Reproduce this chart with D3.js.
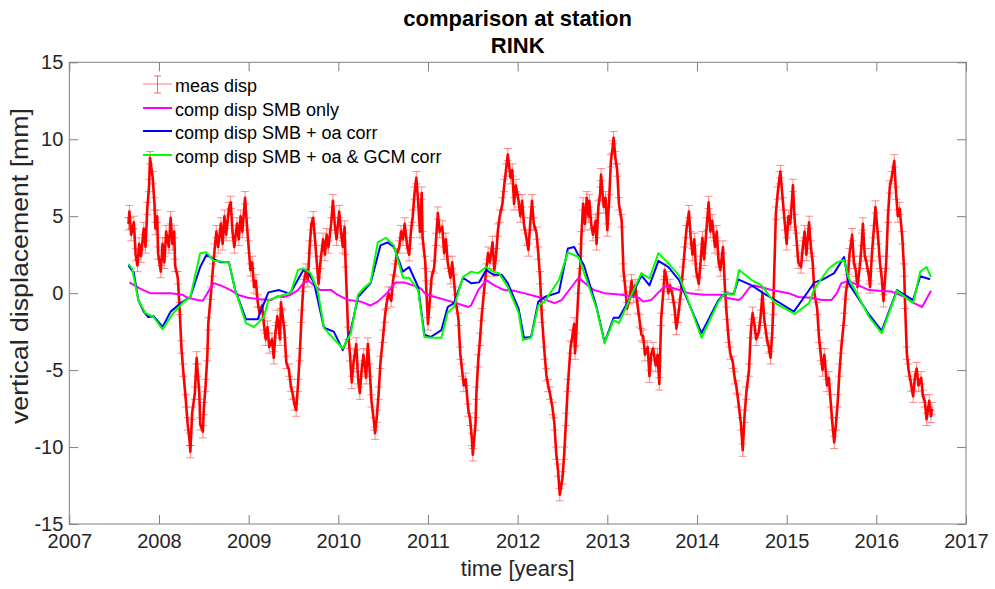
<!DOCTYPE html>
<html>
<head>
<meta charset="utf-8">
<script src="https://cdn.jsdelivr.net/npm/d3@7"></script>
<style>
  body { margin: 0; background: #fff; }
  svg { display: block; font-family: "Liberation Sans", Arial, Helvetica, sans-serif; }
</style>
</head>
<body>
<div class="chart"></div>
<script>
var w = 995,
    h = 589;

// measured displacement (GPS), years and mm
var measYear = [
  2007.66, 2007.67, 2007.69, 2007.72, 2007.74, 2007.76, 2007.78, 2007.80, 2007.83, 2007.85,
  2007.87, 2007.89, 2007.90, 2007.93, 2007.95, 2007.96, 2007.98, 2007.99, 2008.02, 2008.04,
  2008.06, 2008.08, 2008.11, 2008.13, 2008.15, 2008.17, 2008.18, 2008.21, 2008.23, 2008.25,
  2008.27, 2008.30, 2008.32, 2008.34, 2008.35, 2008.37, 2008.40, 2008.42, 2008.43, 2008.45,
  2008.46, 2008.49, 2008.50, 2008.52, 2008.54, 2008.55, 2008.58, 2008.60, 2008.62, 2008.64,
  2008.66, 2008.69, 2008.71, 2008.73, 2008.75, 2008.78, 2008.80, 2008.82, 2008.84, 2008.87,
  2008.89, 2008.91, 2008.93, 2008.96, 2008.98, 2009.00, 2009.02, 2009.04, 2009.06, 2009.08,
  2009.10, 2009.12, 2009.15, 2009.17, 2009.19, 2009.21, 2009.23, 2009.26, 2009.28, 2009.30,
  2009.32, 2009.35, 2009.36, 2009.38, 2009.40, 2009.42, 2009.45, 2009.47, 2009.49, 2009.51,
  2009.53, 2009.55, 2009.57, 2009.59, 2009.61, 2009.64, 2009.66, 2009.68, 2009.70, 2009.72,
  2009.74, 2009.76, 2009.78, 2009.80, 2009.83, 2009.85, 2009.87, 2009.89, 2009.92, 2009.94,
  2009.96, 2009.98, 2010.01, 2010.03, 2010.05, 2010.07, 2010.08, 2010.11, 2010.13, 2010.15,
  2010.17, 2010.20, 2010.22, 2010.24, 2010.26, 2010.28, 2010.31, 2010.33, 2010.35, 2010.37,
  2010.40, 2010.41, 2010.43, 2010.45, 2010.47, 2010.50, 2010.52, 2010.54, 2010.56, 2010.59,
  2010.61, 2010.63, 2010.65, 2010.68, 2010.70, 2010.72, 2010.74, 2010.77, 2010.79, 2010.81,
  2010.83, 2010.85, 2010.87, 2010.89, 2010.91, 2010.93, 2010.94, 2010.97, 2010.98, 2011.00,
  2011.02, 2011.04, 2011.07, 2011.09, 2011.11, 2011.13, 2011.16, 2011.18, 2011.20, 2011.22,
  2011.25, 2011.27, 2011.29, 2011.31, 2011.34, 2011.36, 2011.38, 2011.40, 2011.42, 2011.45,
  2011.47, 2011.49, 2011.50, 2011.53, 2011.54, 2011.56, 2011.58, 2011.60, 2011.63, 2011.65,
  2011.67, 2011.69, 2011.72, 2011.74, 2011.76, 2011.78, 2011.80, 2011.83, 2011.85, 2011.87,
  2011.89, 2011.92, 2011.94, 2011.96, 2011.98, 2012.01, 2012.03, 2012.05, 2012.07, 2012.10,
  2012.12, 2012.14, 2012.16, 2012.18, 2012.21, 2012.23, 2012.25, 2012.27, 2012.30, 2012.32,
  2012.34, 2012.36, 2012.39, 2012.41, 2012.43, 2012.45, 2012.47, 2012.50, 2012.52, 2012.54,
  2012.56, 2012.59, 2012.61, 2012.63, 2012.64, 2012.65, 2012.68, 2012.70, 2012.71, 2012.73,
  2012.75, 2012.77, 2012.79, 2012.80, 2012.82, 2012.84, 2012.87, 2012.88, 2012.90, 2012.92,
  2012.93, 2012.96, 2012.98, 2013.00, 2013.02, 2013.04, 2013.06, 2013.07, 2013.09, 2013.11,
  2013.13, 2013.16, 2013.18, 2013.20, 2013.22, 2013.25, 2013.27, 2013.29, 2013.31, 2013.34,
  2013.36, 2013.38, 2013.40, 2013.42, 2013.45, 2013.47, 2013.49, 2013.51, 2013.54, 2013.56,
  2013.58, 2013.60, 2013.63, 2013.64, 2013.66, 2013.68, 2013.70, 2013.73, 2013.75, 2013.77,
  2013.79, 2013.82, 2013.84, 2013.86, 2013.88, 2013.91, 2013.93, 2013.95, 2013.97, 2013.99,
  2014.02, 2014.04, 2014.06, 2014.08, 2014.11, 2014.13, 2014.15, 2014.17, 2014.20, 2014.22,
  2014.24, 2014.26, 2014.29, 2014.31, 2014.33, 2014.35, 2014.37, 2014.40, 2014.42, 2014.44,
  2014.46, 2014.49, 2014.51, 2014.53, 2014.55, 2014.58, 2014.60, 2014.62, 2014.64, 2014.66,
  2014.69, 2014.71, 2014.73, 2014.75, 2014.78, 2014.80, 2014.82, 2014.84, 2014.85, 2014.88,
  2014.90, 2014.92, 2014.93, 2014.96, 2014.98, 2015.00, 2015.02, 2015.04, 2015.07, 2015.09,
  2015.11, 2015.13, 2015.16, 2015.18, 2015.20, 2015.22, 2015.25, 2015.27, 2015.29, 2015.31,
  2015.34, 2015.36, 2015.38, 2015.40, 2015.42, 2015.45, 2015.47, 2015.49, 2015.51, 2015.53,
  2015.55, 2015.57, 2015.59, 2015.61, 2015.64, 2015.66, 2015.68, 2015.70, 2015.73, 2015.75,
  2015.77, 2015.79, 2015.82, 2015.84, 2015.85, 2015.87, 2015.89, 2015.92, 2015.93, 2015.95,
  2015.97, 2015.99, 2016.02, 2016.04, 2016.06, 2016.08, 2016.11, 2016.13, 2016.15, 2016.17,
  2016.20, 2016.22, 2016.24, 2016.26, 2016.29, 2016.31, 2016.32, 2016.34, 2016.36, 2016.39,
  2016.41, 2016.43, 2016.45, 2016.47, 2016.50, 2016.52, 2016.54, 2016.56, 2016.59, 2016.61,
  2016.62
];
var measDisp = [
  4.5, 5.3, 3.8, 4.6, 2.5, 1.8, 3.2, 2.4, 4.2, 3.0,
  5.5, 7.0, 8.8, 7.5, 5.8, 4.2, 5.0, 2.6, 1.4, 3.2,
  2.0, 4.0, 3.0, 4.9, 3.2, 4.0, 1.8, 1.0, -1.0, -3.5,
  -5.0, -7.0, -8.5, -9.5, -10.3, -7.8, -6.5, -4.2, -5.0, -6.5,
  -8.5, -9.0, -7.5, -6.0, -4.0, -2.0, 0.0, 1.5, 2.8, 4.0,
  3.0, 4.5, 3.2, 5.0, 3.8, 5.5, 5.9, 4.0, 3.0, 4.5,
  3.5, 5.0, 4.0, 6.2, 4.5, 3.0, 1.5, 2.0, 0.4, 0.8,
  -0.5, -1.3, -0.8, -2.0, -3.0, -2.2, -3.5, -3.0, -4.2, -2.5,
  -1.5, -3.0, -0.6, -1.5, -2.5, -4.5, -5.0, -6.0, -6.5, -7.2,
  -7.6, -6.0, -4.0, -1.5, 0.5, 1.5, 0.8, 3.0, 4.5, 4.9,
  3.5, 2.0, 0.6, 2.0, 3.5, 2.5, 3.8, 3.0, 4.5, 6.0,
  4.5, 3.5, 5.3, 4.0, 3.0, 4.3, 2.1, -2.6, -4.0, -5.8,
  -4.5, -3.3, -5.5, -6.5, -5.0, -4.0, -5.5, -3.3, -5.0, -7.0,
  -8.5, -9.1, -8.0, -6.5, -4.5, -2.8, -1.5, -0.6, 0.0, -0.5,
  0.8, 1.5, 2.5, 3.0, 4.0, 3.5, 4.5, 3.0, 2.5, 4.0,
  5.0, 6.5, 7.5, 6.0, 4.0, 6.5, 3.6, 2.0, 0.4, -2.0,
  -0.5, 1.0, 1.7, 3.5, 5.2, 4.0, 4.3, 2.6, 3.5, 2.0,
  1.0, 2.0, 0.8, -0.5, -1.7, -3.9, -5.0, -6.0, -5.6, -7.6,
  -8.2, -9.5, -10.5, -8.5, -6.5, -4.4, -3.0, -1.4, 0.4, 1.5,
  2.6, 2.0, 3.3, 1.5, 2.5, 4.1, 5.0, 5.8, 7.0, 8.0,
  9.0, 7.5, 8.0, 5.8, 7.0, 6.0, 5.0, 6.0, 4.5, 3.5,
  2.8, 4.5, 6.0, 4.5, 3.9, 2.6, 1.0, -1.5, -3.9, -5.3,
  -6.0, -6.5, -7.5, -8.5, -10.4, -11.5, -13.1, -12.0, -10.4, -8.2,
  -6.0, -3.5, -2.8, -2.0, -3.9, -3.0, 0.4, 2.0, 3.6, 5.8,
  4.5, 6.2, 5.0, 6.0, 4.5, 3.8, 4.7, 3.2, 5.6, 6.5,
  7.7, 5.6, 6.2, 4.1, 6.0, 8.6, 9.5, 10.1, 8.8, 8.0,
  5.8, 4.7, 1.5, 0.4, -1.0, -0.3, 0.8, -0.2, 0.5, -0.9,
  -1.8, -2.7, -2.8, -4.0, -3.5, -5.4, -4.0, -3.6, -4.7, -4.0,
  -5.9, -1.7, 0.5, 1.5, 1.0, 0.0, 0.5, -0.2, -1.0, -2.3,
  -1.5, 0.0, 1.3, 2.6, 4.0, 5.3, 3.6, 2.5, 3.5, 1.5,
  0.6, 2.0, 3.6, 2.2, 4.5, 5.9, 4.0, 4.7, 3.0, 4.0,
  2.1, 1.5, 3.0, 0.5, -1.3, -2.8, -3.9, -4.5, -5.5, -6.1,
  -7.0, -8.5, -10.2, -8.0, -6.5, -5.0, -2.5, -1.3, -2.0, -3.0,
  -2.5, -1.5, 0.0, -1.7, -3.0, -3.5, -4.2, -2.5, -1.0, 5.2,
  6.5, 7.5, 7.9, 5.8, 4.5, 3.2, 5.0, 4.5, 7.0, 4.7,
  3.5, 2.0, 1.7, 3.0, 4.0, 2.5, 4.6, 3.0, 2.0, 0.0,
  -1.0, -2.8, -4.0, -5.0, -4.0, -6.0, -5.5, -7.0, -8.5, -9.7,
  -8.5, -7.0, -5.0, -3.5, -1.7, 0.0, 0.8, 2.5, 3.8, 2.0,
  1.5, 0.4, 2.0, 3.5, 4.5, 2.5, 2.0, 1.0, 0.4, 2.5,
  4.0, 5.6, 3.6, 2.0, 1.0, -0.5, 2.0, 5.0, 6.9, 7.5,
  8.6, 6.5, 5.0, 5.5, 3.6, 1.5, -0.6, -3.9, -5.0, -6.0,
  -6.7, -5.5, -4.9, -6.0, -5.5, -6.7, -7.0, -8.2, -7.0, -8.0,
  -7.5
];
var measErr = 0.4;

// computed displacement, SMB only
var smbYear = [
  2007.67, 2007.79, 2007.90, 2008.13, 2008.26, 2008.32, 2008.43, 2008.49, 2008.54, 2008.61,
  2008.69, 2008.80, 2008.88, 2008.99, 2009.13, 2009.25, 2009.32, 2009.39, 2009.47, 2009.55,
  2009.61, 2009.67, 2009.73, 2009.80, 2009.92, 2009.99, 2010.11, 2010.25, 2010.36, 2010.44,
  2010.55, 2010.64, 2010.73, 2010.84, 2010.92, 2010.98, 2011.11, 2011.29, 2011.45, 2011.48,
  2011.56, 2011.65, 2011.74, 2011.85, 2011.96, 2012.07, 2012.23, 2012.41, 2012.49, 2012.60,
  2012.68, 2012.74, 2012.85, 2012.97, 2013.16, 2013.35, 2013.40, 2013.49, 2013.57, 2013.64,
  2013.75, 2013.91, 2014.08, 2014.27, 2014.33, 2014.46, 2014.50, 2014.59, 2014.64, 2014.83,
  2015.02, 2015.13, 2015.28, 2015.39, 2015.50, 2015.56, 2015.61, 2015.69, 2015.80, 2015.92,
  2016.03, 2016.17, 2016.32, 2016.42, 2016.51, 2016.61
];
var smbDisp = [
  0.7, 0.3, 0.0, 0.0, -0.1, -0.3, -0.45, -0.5, 0.0, 0.65,
  0.5, 0.2, -0.1, -0.3, -0.4, -0.45, -0.2, -0.25, -0.1, 0.2,
  0.65, 0.8, 0.5, 0.2, 0.2, -0.1, -0.45, -0.55, -0.8, -0.55,
  0.05, 0.7, 0.7, 0.5, 0.3, -0.1, -0.3, -0.6, -0.9, -0.8,
  0.2, 0.85, 0.5, 0.2, 0.15, 0.0, -0.25, -0.65, -0.45, 0.4,
  1.0, 0.7, 0.2, 0.0, -0.1, -0.3, -0.55, -0.45, 0.05, 0.45,
  0.3, 0.0, -0.1, -0.1, -0.3, -0.45, -0.3, 0.4, 0.5, 0.2,
  0.0, -0.25, -0.3, -0.45, -0.45, 0.0, 0.65, 0.8, 0.5, 0.2,
  0.15, 0.1, -0.25, -0.65, -0.9, 0.15
];

// computed displacement, SMB + ocean/atmosphere correction
var oaYear = [
  2007.66, 2007.72, 2007.77, 2007.83, 2007.88, 2007.94, 2008.04, 2008.13, 2008.24, 2008.35,
  2008.46, 2008.53, 2008.61, 2008.69, 2008.78, 2008.85, 2008.97, 2009.10, 2009.22, 2009.34,
  2009.44, 2009.47, 2009.61, 2009.66, 2009.73, 2009.84, 2009.95, 2010.05, 2010.14, 2010.22,
  2010.36, 2010.47, 2010.55, 2010.62, 2010.72, 2010.79, 2010.89, 2010.96, 2011.03, 2011.15,
  2011.22, 2011.29, 2011.39, 2011.48, 2011.57, 2011.65, 2011.73, 2011.82, 2011.89, 2012.01,
  2012.07, 2012.15, 2012.23, 2012.30, 2012.46, 2012.56, 2012.63, 2012.71, 2012.74, 2012.88,
  2012.97, 2013.07, 2013.13, 2013.29, 2013.38, 2013.47, 2013.57, 2013.68, 2013.80, 2014.05,
  2014.24, 2014.31, 2014.41, 2014.46, 2014.61, 2014.74, 2014.83, 2015.08, 2015.19, 2015.31,
  2015.39, 2015.53, 2015.64, 2015.69, 2015.92, 2016.06, 2016.23, 2016.41, 2016.49, 2016.60
];
var oaDisp = [
  1.8, 1.3, -0.45, -1.2, -1.55, -1.5, -2.2, -1.2, -0.65, -0.25,
  1.7, 2.5, 2.2, 2.0, 2.0, 0.2, -1.7, -1.7, 0.05, 0.2,
  0.0, 0.05, 1.5, 1.4, 0.65, -2.25, -2.5, -3.7, -2.4, -0.25,
  0.65, 3.1, 3.3, 3.0, 1.4, 1.7, 0.4, -2.7, -2.85, -2.4,
  -0.9, -0.65, 1.0, 0.65, 0.7, 1.5, 1.2, 1.2, 0.65, -1.0,
  -2.9, -2.85, -0.55, -0.25, 0.05, 2.9, 3.0, 2.1, 1.8, -0.9,
  -3.2, -1.6, -1.6, 0.05, 1.15, 0.5, 2.1, 1.7, 0.85, -2.6,
  -0.45, 0.0, -0.05, 0.9, 0.5, 0.0, -0.3, -1.2, -0.3, 0.7,
  0.85, 1.3, 2.35, 0.65, -1.4, -2.45, 0.2, -0.45, 1.1, 0.9
];

// computed displacement, SMB + oa & GCM correction
var gcmYear = [
  2007.66, 2007.70, 2007.77, 2007.85, 2007.94, 2008.04, 2008.16, 2008.27, 2008.35, 2008.46,
  2008.53, 2008.61, 2008.78, 2008.85, 2008.97, 2009.06, 2009.17, 2009.22, 2009.32, 2009.47,
  2009.55, 2009.61, 2009.69, 2009.77, 2009.84, 2009.89, 2010.05, 2010.14, 2010.22, 2010.28,
  2010.36, 2010.44, 2010.53, 2010.62, 2010.72, 2010.79, 2010.89, 2010.96, 2011.03, 2011.15,
  2011.22, 2011.29, 2011.39, 2011.48, 2011.56, 2011.65, 2011.73, 2011.79, 2011.89, 2012.01,
  2012.06, 2012.15, 2012.23, 2012.30, 2012.46, 2012.56, 2012.68, 2012.88, 2012.97, 2013.07,
  2013.13, 2013.38, 2013.47, 2013.57, 2013.68, 2013.80, 2014.05, 2014.24, 2014.31, 2014.41,
  2014.47, 2014.61, 2014.72, 2014.87, 2015.09, 2015.25, 2015.31, 2015.47, 2015.56, 2015.64,
  2015.69, 2015.92, 2016.06, 2016.23, 2016.41, 2016.49, 2016.56, 2016.61
];
var gcmDisp = [
  1.9, 1.6, -0.45, -1.3, -1.55, -2.35, -1.3, -0.6, -0.25, 2.6,
  2.65, 2.1, 2.0, 0.2, -1.95, -2.2, -1.55, -0.45, -0.25, 0.05,
  1.5, 1.6, 1.3, 0.2, -2.25, -2.6, -3.6, -2.6, -0.1, 0.3,
  0.7, 3.3, 3.6, 3.1, 1.0, 1.0, 0.2, -2.85, -2.9, -2.9,
  -1.25, -0.9, 1.05, 1.4, 1.3, 1.7, 1.4, 1.3, 0.4, -1.25,
  -3.05, -2.9, -0.8, -0.55, 0.85, 2.65, 2.35, -1.0, -3.25, -1.75,
  -1.95, 1.3, 0.95, 2.6, 1.95, 1.15, -2.9, -0.55, 0.0, -0.1,
  1.5, 0.85, 0.5, -0.65, -1.35, -0.65, 0.3, 1.6, 2.0, 2.15,
  1.0, -1.55, -2.6, 0.15, -0.65, 1.4, 1.7, 1.05
];

var xTicks = [2007, 2008, 2009, 2010, 2011, 2012, 2013, 2014, 2015, 2016, 2017];
var yTicks = [-15, -10, -5, 0, 5, 10, 15];
var titleLines = ['comparison at station', 'RINK'];
var legendLabels = ['meas disp', 'comp disp SMB only', 'comp disp SMB + oa corr', 'comp disp SMB + oa & GCM corr'];

var plotL = 69.3, plotR = 966, plotT = 62.3, plotB = 524;
var axisColor = '#808080', textColor = '#262626';

var svg = d3.select('.chart').append('svg').attr('width', w).attr('height', h);

var x = d3.scaleLinear().domain([2007, 2017]).range([plotL, plotR]);
var y = d3.scaleLinear().domain([-15, 15]).range([plotB, plotT]);

var zip = function (ts, vs) {
  return ts.map(function (t, i) { return {t: t, v: vs[i]}; });
};
var line = d3.line()
  .x(function (d) { return x(d.t); })
  .y(function (d) { return y(d.v); });

// error bars
var meas = zip(measYear, measDisp);
var bars = svg.append('g')
  .attr('stroke', 'rgba(255,30,30,0.5)')
  .attr('stroke-width', 1);
meas.forEach(function (d) {
  var cx = x(d.t), y0 = y(d.v - measErr), y1 = y(d.v + measErr);
  bars.append('line').attr('x1', cx).attr('x2', cx).attr('y1', y0).attr('y2', y1);
  bars.append('line').attr('x1', cx - 4).attr('x2', cx + 4).attr('y1', y0).attr('y2', y0);
  bars.append('line').attr('x1', cx - 4).attr('x2', cx + 4).attr('y1', y1).attr('y2', y1);
});

svg.append('path').datum(meas)
  .attr('d', line).attr('fill', 'none')
  .attr('stroke', '#ff0000').attr('stroke-width', 2.6)
  .attr('stroke-linejoin', 'round');

var series = [
  {data: zip(smbYear, smbDisp), color: '#ff00ff'},
  {data: zip(oaYear, oaDisp), color: '#0000ff'},
  {data: zip(gcmYear, gcmDisp), color: '#00ff00'}
];
series.forEach(function (s) {
  svg.append('path').datum(s.data)
    .attr('d', line).attr('fill', 'none')
    .attr('stroke', s.color).attr('stroke-width', 2)
    .attr('stroke-linejoin', 'round');
});

// axes with inward ticks on all four sides
var styleAxis = function (g) {
  g.select('.domain').remove();
  g.selectAll('line').attr('stroke', axisColor);
  g.selectAll('text').attr('fill', textColor).attr('font-size', 20)
    .attr('font-family', '"Liberation Sans", Arial, sans-serif');
};
var plain = function (d) { return String(d); };
svg.append('g').attr('transform', 'translate(0,' + plotB + ')')
  .call(d3.axisBottom(x).tickValues(xTicks).tickFormat(plain).tickSize(-9).tickPadding(10))
  .call(styleAxis);
svg.append('g').attr('transform', 'translate(0,' + plotT + ')')
  .call(d3.axisTop(x).tickValues(xTicks).tickFormat('').tickSize(-9))
  .call(styleAxis);
svg.append('g').attr('transform', 'translate(' + plotL + ',0)')
  .call(d3.axisLeft(y).tickValues(yTicks).tickFormat(plain).tickSize(-9).tickPadding(6))
  .call(styleAxis);
svg.append('g').attr('transform', 'translate(' + plotR + ',0)')
  .call(d3.axisRight(y).tickValues(yTicks).tickFormat('').tickSize(-9))
  .call(styleAxis);

svg.append('rect')
  .attr('x', plotL).attr('y', plotT)
  .attr('width', plotR - plotL).attr('height', plotB - plotT)
  .attr('fill', 'none').attr('stroke', axisColor).attr('stroke-width', 1);

// titles and labels
var midX = (plotL + plotR) / 2;
svg.selectAll('.title').data(titleLines).enter().append('text')
  .attr('x', midX).attr('y', function (d, i) { return 26 + i * 27; })
  .attr('text-anchor', 'middle').attr('font-weight', 'bold')
  .attr('font-size', 22).attr('fill', '#000')
  .text(function (d) { return d; });

svg.append('text')
  .attr('x', midX).attr('y', 576)
  .attr('text-anchor', 'middle').attr('font-size', 22).attr('fill', textColor)
  .text('time [years]');

svg.append('text')
  .attr('transform', 'translate(28,266) rotate(-90)')
  .attr('text-anchor', 'middle').attr('font-size', 23).attr('fill', textColor)
  .attr('textLength', 316).attr('lengthAdjust', 'spacingAndGlyphs')
  .text('vertical displacement [mm]');

// legend
var legY = [86, 110, 133, 157];
var lg = svg.append('g');
legendLabels.forEach(function (lab, i) {
  var yy = legY[i] - 2;
  if (i === 0) {
    lg.append('line').attr('x1', 143).attr('x2', 172).attr('y1', yy).attr('y2', yy)
      .attr('stroke', 'rgba(255,0,0,0.35)').attr('stroke-width', 1.5);
    lg.append('line').attr('x1', 157.5).attr('x2', 157.5).attr('y1', 76).attr('y2', 93)
      .attr('stroke', 'rgba(255,0,0,0.6)').attr('stroke-width', 1);
    [76, 93].forEach(function (cy) {
      lg.append('line').attr('x1', 154).attr('x2', 161).attr('y1', cy).attr('y2', cy)
        .attr('stroke', 'rgba(255,0,0,0.6)').attr('stroke-width', 1);
    });
  } else {
    lg.append('line').attr('x1', 143).attr('x2', 172).attr('y1', yy).attr('y2', yy)
      .attr('stroke', series[i - 1].color).attr('stroke-width', 2);
  }
  lg.append('text').attr('x', 175).attr('y', legY[i]).attr('dy', '0.35em')
    .attr('font-size', 18).attr('fill', '#000').text(lab);
});
</script>
</body>
</html>
